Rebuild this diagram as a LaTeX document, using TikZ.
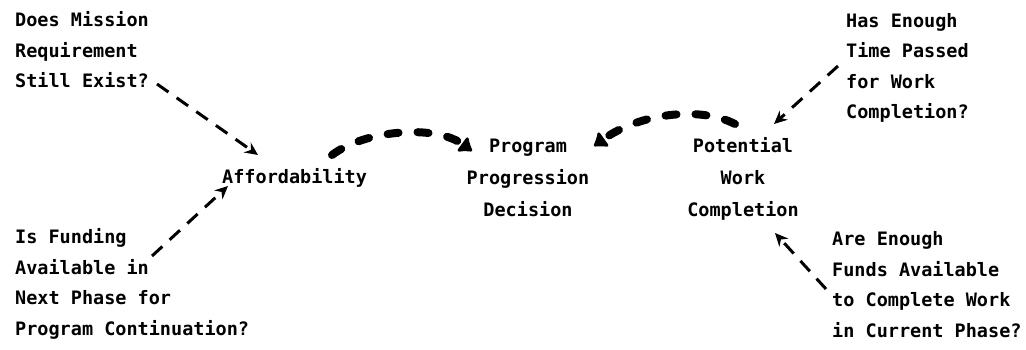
\documentclass[tikz,border=0pt]{standalone}
\usepackage{fontspec}
\newfontfamily\labelfont{DejaVu Sans Mono}[BoldFont={DejaVu Sans Mono Bold}]
\usetikzlibrary{arrows.meta}
\begin{document}
\begin{tikzpicture}[x=1pt,y=-1pt,
  txt/.style={inner sep=0pt, font=\labelfont\bfseries\fontsize{18.5}{30.5}\selectfont, align=left, anchor=base west},
  ctr/.style={inner sep=0pt, font=\labelfont\bfseries\fontsize{18.5}{32}\selectfont, align=center, anchor=base},
  cue/.style={line width=3pt, dash pattern=on 14pt off 10pt, -{Stealth[length=13pt,width=12pt]}},
  flow/.style={line width=8pt, line cap=round, dash pattern=on 11pt off 19pt, -{Latex[length=14pt,width=22pt,round]}}]
\useasboundingbox (0,0) rectangle (1026,350);

% questions feeding the two factors (anchored at the last line's baseline)
\node[txt] (mission) at (15,88) {Does Mission\\Requirement\\Still Exist?};
\node[txt] (funding) at (15,335) {Is Funding\\Available in\\Next Phase for\\Program Continuation?};
\node[txt] (time) at (846,119) {Has Enough\\Time Passed\\for Work\\Completion?};
\node[txt] (funds) at (832,337) {Are Enough\\Funds Available\\to Complete Work\\in Current Phase?};

% factors and decision
\node[txt] (afford) at (222,183) {Affordability};
\node[ctr] (decision) at (528,216) {Program\\Progression\\Decision};
\node[ctr] (work) at (743,216) {Potential\\Work\\Completion};

% connector end points
\coordinate (mission-out) at (157,84);
\coordinate (afford-top) at (258,155);
\coordinate (funding-out) at (152,256);
\coordinate (afford-bot) at (228,186);
\coordinate (time-out) at (838,66);
\coordinate (work-top) at (774,124);
\coordinate (funds-out) at (826,289);
\coordinate (work-bot) at (775,233);
\coordinate (afford-out) at (332,155);
\coordinate (decision-left) at (472,151);
\coordinate (work-out) at (735,124);
\coordinate (decision-right) at (594,146);

\draw[cue] (mission-out) -- (afford-top);
\draw[cue] (funding-out) -- (afford-bot);
\draw[cue] (time-out) -- (work-top);
\draw[cue] (funds-out) -- (work-bot);

\draw[flow] (afford-out) .. controls (365,130) and (435,124) .. (decision-left);
\draw[flow] (work-out) .. controls (700,106) and (640,113) .. (decision-right);
\end{tikzpicture}
\end{document}
